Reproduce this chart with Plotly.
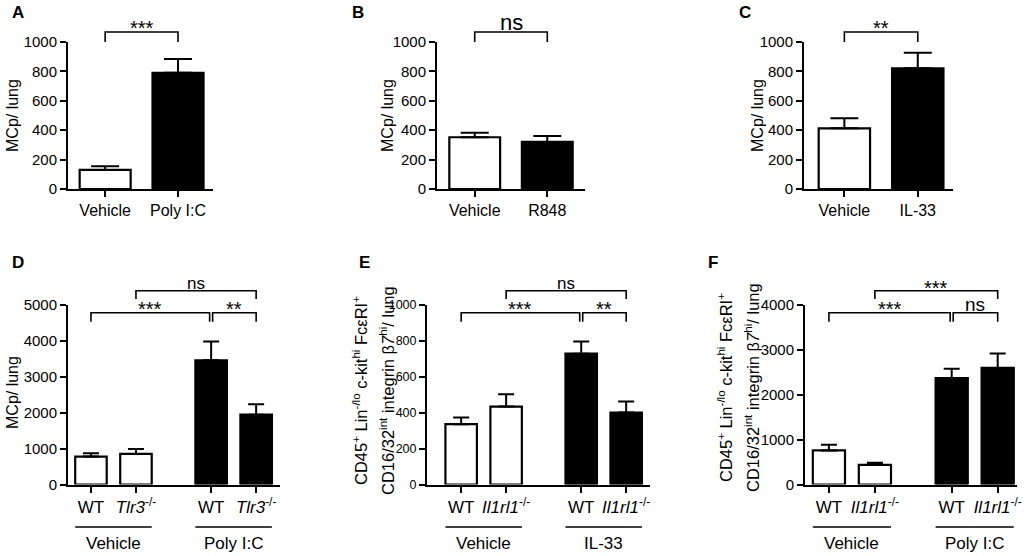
import plotly.graph_objects as go

W, H = 1029, 556
FONT = "Arial, Liberation Sans, sans-serif"

## pixel -> paper helpers, everything below is laid out in pixels of the 1029x556 page
def px_x(p):
    return p / W

def px_y(p):
    return 1 - p / H

##############################################################################
################################   DATA   ####################################
##############################################################################
a_labels = ["Vehicle", "Poly I:C"]
a_means = [130, 790]
a_sem = [25, 95]

b_labels = ["Vehicle", "R848"]
b_means = [352, 320]
b_sem = [30, 40]

c_labels = ["Vehicle", "IL-33"]
c_means = [413, 821]
c_sem = [68, 106]

tlr3 = "<i>Tlr3</i><sup>-/-</sup>"
il1rl1 = "<i>Il1rl1</i><sup>-/-</sup>"

d_labels = ["WT", tlr3, "WT", tlr3]
d_groups = ["Vehicle", "Poly I:C"]
d_means = [775, 850, 3450, 1940]
d_sem = [90, 135, 520, 290]

e_labels = ["WT", il1rl1, "WT", il1rl1]
e_groups = ["Vehicle", "IL-33"]
e_means = [335, 433, 727, 400]
e_sem = [37, 69, 67, 61]

f_labels = ["WT", il1rl1, "WT", il1rl1]
f_groups = ["Vehicle", "Poly I:C"]
f_means = [757, 438, 2367, 2590]
f_sem = [126, 44, 208, 319]

## significance: (left bar, right bar, bracket level, text)
a_sig = [(0, 1, 0, "***")]
b_sig = [(0, 1, 0, "ns")]
c_sig = [(0, 1, 0, "**")]
d_sig = [(0, 2, 0, "***"), (2, 3, 0, "**"), (1, 3, 1, "ns")]
e_sig = [(0, 2, 0, "***"), (2, 3, 0, "**"), (1, 3, 1, "ns")]
f_sig = [(0, 2, 0, "***"), (2, 3, 0, "ns"), (1, 3, 1, "***")]

mcp_title = "MCp/ lung"
flow_title = ["CD45<sup>+</sup> Lin<sup>-/lo</sup> c-kit<sup>hi</sup> Fc\u03b5RI<sup>+</sup>",
              "CD16/32<sup>int</sup> integrin \u03b2<i>7</i><sup>hi</sup>/ lung"]

##############################################################################
###############################   LAYOUT   ###################################
##############################################################################
two = [0, 1]
four = [g * 2.67 + i for g in range(2) for i in range(2)]

top_row = dict(top=42, bottom=189, letter_y=13, cap=14, xfont=16,
               brk=[(32, 42)], txt=[23])
bot_row = dict(top=304.5, bottom=484.5, letter_y=263, cap=8, xfont=17,
               brk=[(312.7, 321.7), (290.7, 299)], txt=[304, 283])

panels = [
    dict(letter="A", lx=10, means=a_means, sem=a_sem, labels=a_labels, sig=a_sig,
         pos=two, colors=["white", "black"], l=68, r=213, xr=(-0.51, 1.48),
         ymax=1000, dtick=200, yfont=15, title=[mcp_title], tx=[12], ty=116,
         groups=None, ns=22, **top_row),
    dict(letter="B", lx=350, means=b_means, sem=b_sem, labels=b_labels, sig=b_sig,
         pos=two, colors=["white", "black"], l=437, r=585, xr=(-0.52, 1.52),
         ymax=1000, dtick=200, yfont=15, title=[mcp_title], tx=[387], ty=116,
         groups=None, ns=22, **top_row),
    dict(letter="C", lx=737, means=c_means, sem=c_sem, labels=c_labels, sig=c_sig,
         pos=two, colors=["white", "black"], l=804, r=953, xr=(-0.55, 1.48),
         ymax=1000, dtick=200, yfont=15, title=[mcp_title], tx=[757], ty=116,
         groups=None, ns=22, **top_row),
    dict(letter="D", lx=10, means=d_means, sem=d_sem, labels=d_labels, sig=d_sig,
         pos=four, colors=["white", "white", "black", "black"], l=68, r=280,
         xr=(-0.51, 4.2), ymax=5000, dtick=1000, yfont=15, title=[mcp_title],
         tx=[12], ty=393, groups=d_groups, ns=17, **bot_row),
    dict(letter="E", lx=357, means=e_means, sem=e_sem, labels=e_labels, sig=e_sig,
         pos=four, colors=["white", "white", "black", "black"], l=427, r=650,
         xr=(-0.76, 4.2), ymax=1000, dtick=200, yfont=12.5, title=flow_title,
         tx=[360, 387], ty=391, groups=e_groups, ns=17, **bot_row),
    dict(letter="F", lx=706, means=f_means, sem=f_sem, labels=f_labels, sig=f_sig,
         pos=four, colors=["white", "white", "black", "black"], l=805, r=1017,
         xr=(-0.52, 4.09), ymax=4000, dtick=1000, yfont=15, title=flow_title,
         tx=[725, 752], ty=388, groups=f_groups, ns=19, **bot_row),
]

fig = go.Figure()
layout = dict(width=W, height=H, margin=dict(l=0, r=0, t=0, b=0, pad=0),
              paper_bgcolor="white", plot_bgcolor="white", showlegend=False,
              font=dict(family=FONT, color="black"))
shapes, annos = [], []

for k, p in enumerate(panels):
    n = "" if k == 0 else str(k + 1)
    xa, ya = "x" + n, "y" + n

    ## data x -> page pixel, for brackets and group lines
    def dx(v, p=p):
        return p["l"] + (v - p["xr"][0]) / (p["xr"][1] - p["xr"][0]) * (p["r"] - p["l"])

    fig.add_trace(go.Bar(
        x=p["pos"], y=p["means"], width=0.7, xaxis=xa, yaxis=ya,
        marker=dict(color=p["colors"], line=dict(color="black", width=2.2)),
        error_y=dict(type="data", array=p["sem"], arrayminus=[0] * len(p["sem"]),
                     symmetric=False, color="black", thickness=2, width=p["cap"]),
        hoverinfo="y"))

    layout["xaxis" + n] = dict(
        domain=[px_x(p["l"]), px_x(p["r"])], range=list(p["xr"]), anchor=ya,
        tickmode="array", tickvals=p["pos"], ticktext=p["labels"],
        ticks="outside", ticklen=6, tickwidth=2, tickcolor="black",
        showline=True, linewidth=2, linecolor="black", showgrid=False,
        zeroline=False, tickfont=dict(size=p["xfont"]), fixedrange=True,
        automargin=False)
    layout["yaxis" + n] = dict(
        domain=[px_y(p["bottom"]), px_y(p["top"])], range=[0, p["ymax"]],
        anchor=xa, dtick=p["dtick"], ticks="outside", ticklen=6, tickwidth=2,
        tickcolor="black", showline=True, linewidth=2, linecolor="black",
        showgrid=False, zeroline=False, tickfont=dict(size=p["yfont"]),
        fixedrange=True, automargin=False)

    ## panel letter
    annos.append(dict(text="<b>%s</b>" % p["letter"], x=px_x(p["lx"]), y=px_y(p["letter_y"]),
                      xref="paper", yref="paper", xanchor="left", yanchor="middle",
                      showarrow=False, font=dict(size=17)))

    ## y titles (rotated annotations so they sit where the original has them)
    for t, tx in zip(p["title"], p["tx"]):
        annos.append(dict(text=t, x=px_x(tx), y=px_y(p["ty"]), xref="paper", yref="paper",
                          textangle=-90, showarrow=False, xanchor="center",
                          yanchor="middle", font=dict(size=16.5 if len(p["title"]) > 1 else 16)))

    ## significance brackets
    for i0, i1, lev, txt in p["sig"]:
        x0, x1 = dx(p["pos"][i0]), dx(p["pos"][i1])
        ## neighbouring brackets meeting on the same bar get a small gap
        if lev == 0 and len(p["pos"]) > 2:
            if i1 == 2:
                x1 -= 1.5
            if i0 == 2:
                x0 += 1.5
        yh, yl = p["brk"][lev]
        shapes.append(dict(type="path", xref="paper", yref="paper",
                           path="M%f,%f L%f,%f L%f,%f L%f,%f" % (
                               px_x(x0), px_y(yl), px_x(x0), px_y(yh),
                               px_x(x1), px_y(yh), px_x(x1), px_y(yl)),
                           line=dict(color="black", width=1.6)))
        ty = p["txt"][lev]
        if "*" in txt:
            size, ty = 20, ty + 5
        else:
            size = p["ns"]
        annos.append(dict(text=txt, x=px_x((x0 + x1) / 2), y=px_y(ty),
                          xref="paper", yref="paper", showarrow=False,
                          xanchor="center", yanchor="middle", font=dict(size=size)))

    ## group lines and names under the four-bar panels
    if p["groups"]:
        for g, name in enumerate(p["groups"]):
            c = (p["pos"][2 * g] + p["pos"][2 * g + 1]) / 2
            shapes.append(dict(type="line", xref="paper", yref="paper",
                               x0=px_x(dx(c - 0.85)), x1=px_x(dx(c + 0.85)),
                               y0=px_y(527), y1=px_y(527),
                               line=dict(color="black", width=1.6)))
            annos.append(dict(text=name, x=px_x(dx(c)), y=px_y(543), xref="paper",
                              yref="paper", showarrow=False, xanchor="center",
                              yanchor="middle", font=dict(size=17)))

layout["shapes"] = shapes
layout["annotations"] = annos
fig.update_layout(**layout)
## default page has an 8px body margin, drop it so the figure fills the window
fig.write_html("out.html", config={"displayModeBar": False},
               post_script="document.body.style.margin='0';document.body.style.padding='0';")
